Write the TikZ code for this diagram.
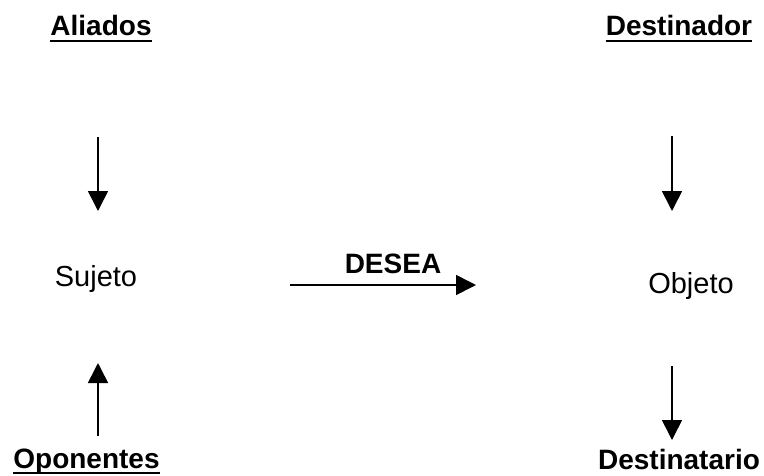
\documentclass[tikz,border=0pt]{standalone}
\usepackage{fontspec}
\setmainfont{Liberation Sans}
\usetikzlibrary{arrows.meta}
\begin{document}
\begin{tikzpicture}[x=1pt,y=-1pt,
  lbl/.style={inner sep=0pt, anchor=base, font=\fontsize{28}{30}\selectfont\bfseries},
  plainlbl/.style={inner sep=0pt, anchor=base, font=\fontsize{29}{31}\selectfont},
  arr/.style={line width=1.6pt, -{Triangle[length=20pt,width=20pt]}},
  uline/.style={line width=2.6pt}]
\useasboundingbox (0,0) rectangle (764,475);
% labels
\node[lbl] (ali) at (101,35) {Aliados};
\node[lbl] (dor) at (679,35) {Destinador};
\node[lbl] (opo) at (86.5,468) {Oponentes};
\node[lbl] (tar) at (679,469) {Destinatario};
\node[lbl] (des) at (393,273) {DESEA};
\node[plainlbl] (suj) at (96,286) {Sujeto};
\node[plainlbl] (obj) at (691,293) {Objeto};
% underlines
\draw[uline] ([yshift=-6pt]ali.base west) -- ([yshift=-6pt]ali.base east);
\draw[uline] ([yshift=-6pt]dor.base west) -- ([yshift=-6pt]dor.base east);
\draw[uline] ([yshift=-5pt]opo.base west) -- ([yshift=-5pt]opo.base east);
% arrow ends
\coordinate (a1) at (98,137);  \coordinate (a2) at (98,211);
\coordinate (b1) at (672,136); \coordinate (b2) at (672,211);
\coordinate (c1) at (98,436);  \coordinate (c2) at (98,363);
\coordinate (d1) at (672,366); \coordinate (d2) at (672,440);
\coordinate (e1) at (290,285); \coordinate (e2) at (476,285);
\draw[arr] (a1) -- (a2);
\draw[arr] (b1) -- (b2);
\draw[arr] (c1) -- (c2);
\draw[arr] (d1) -- (d2);
\draw[arr] (e1) -- (e2);
\end{tikzpicture}
\end{document}
